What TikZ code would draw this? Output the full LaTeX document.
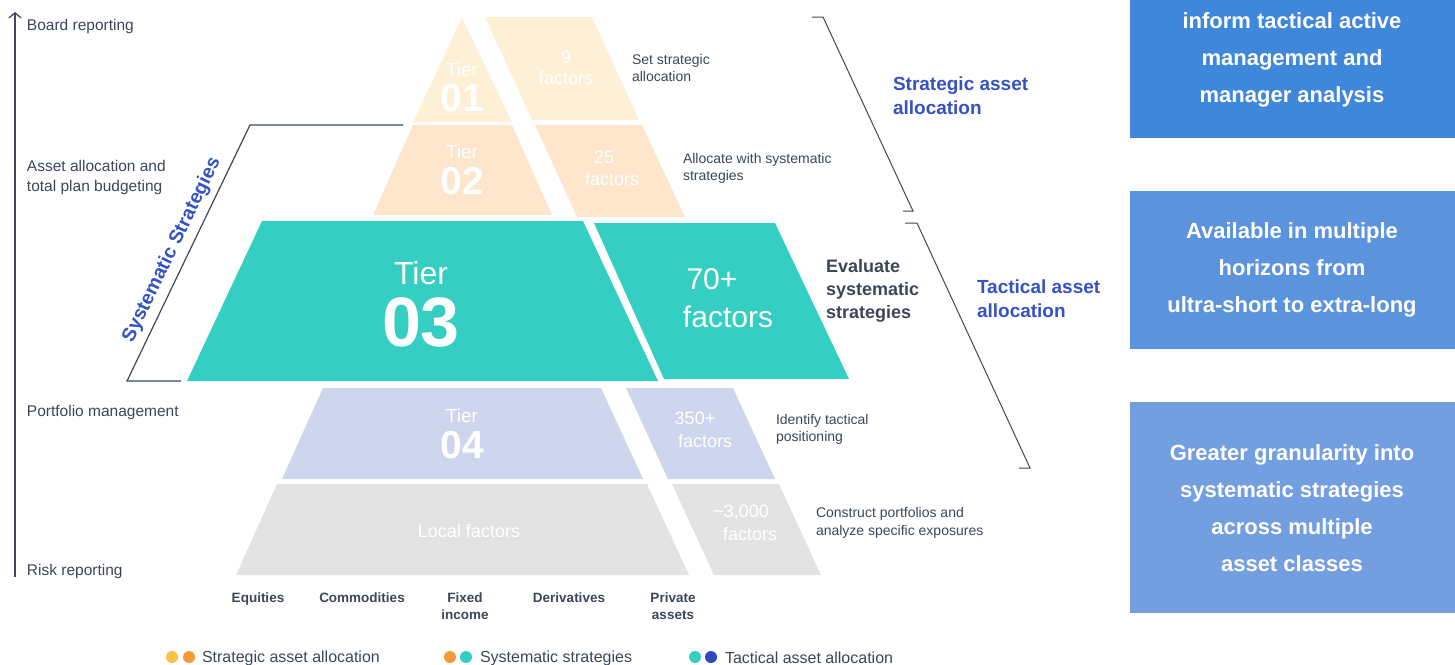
\documentclass[tikz,border=0pt]{standalone}
\usepackage{fontspec}
\setmainfont{Liberation Sans}
\usetikzlibrary{arrows.meta}

\definecolor{tierA}{HTML}{FEF0D6}
\definecolor{tierB}{HTML}{FDE6CC}
\definecolor{tierC}{HTML}{34CEC2}
\definecolor{tierD}{HTML}{CED6EE}
\definecolor{tierE}{HTML}{E3E3E3}
\definecolor{ink}{HTML}{3C4658}
\definecolor{headblue}{HTML}{3552C4}
\definecolor{rule}{HTML}{3F4858}
\definecolor{boxA}{HTML}{3F87DA}
\definecolor{boxB}{HTML}{5B94DD}
\definecolor{boxC}{HTML}{739FE1}
\definecolor{dotyellow}{HTML}{F8C347}
\definecolor{dotorange}{HTML}{F39A38}
\definecolor{dotteal}{HTML}{34CEC2}
\definecolor{dotblue}{HTML}{2E4BBE}

\begin{document}
\begin{tikzpicture}[x=1pt,y=-1pt,
  every node/.style={inner sep=0pt, outer sep=0pt},
  lbl/.style={font=\fontsize{15.5}{20}\selectfont, text=ink, anchor=west, align=left},
  note/.style={font=\fontsize{14}{17.5}\selectfont, text=ink, anchor=west, align=left},
  head/.style={font=\bfseries\fontsize{19}{24}\selectfont, text=headblue, anchor=west, align=left},
  tiersm/.style={font=\fontsize{19}{19}\selectfont, text=white},
  tiernum/.style={font=\bfseries\fontsize{39}{39}\selectfont, text=white},
  factor/.style={font=\fontsize{18}{18}\selectfont, text=white},
  boxtext/.style={font=\bfseries\fontsize{22}{37}\selectfont, text=white, align=center},
  asset/.style={font=\bfseries\fontsize{13.5}{17}\selectfont, text=ink, align=center, anchor=north},
  legend/.style={font=\fontsize{16}{16}\selectfont, text=ink, anchor=west},
  bracket/.style={draw=rule, line width=1pt},
  legdot/.style={circle, minimum size=12pt}
]
\useasboundingbox (0,0) rectangle (1455,664);

% ---- pyramid tiers (left piece, right piece) ----
\fill[tierA] (462,18) -- (512,122) -- (413,122) -- cycle;
\fill[tierA] (485,17) -- (592,17) -- (639,120) -- (532,120) -- cycle;
\fill[tierB] (413,125) -- (512,125) -- (552,215) -- (373,215) -- cycle;
\fill[tierB] (535,125) -- (642,125) -- (685,217) -- (577,217) -- cycle;
\fill[tierC] (262,221) -- (583,221) -- (658,381) -- (187,381) -- cycle;
\fill[tierC] (594,223) -- (775,223) -- (849,379) -- (664,379) -- cycle;
\fill[tierD] (323,388) -- (601,388) -- (643,479) -- (282,479) -- cycle;
\fill[tierD] (626,388) -- (733,388) -- (775,479) -- (668,479) -- cycle;
\fill[tierE] (277,484) -- (647,484) -- (689,575) -- (236,575) -- cycle;
\fill[tierE] (672,484) -- (779,484) -- (821,575) -- (714,575) -- cycle;

% ---- tier labels ----
\node[tiersm]  (t1a) at (462,70)  {Tier};
\node[tiernum] (t1b) at (462,98.5) {01};
\node[factor]  (f1a) at (566,57)  {9};
\node[factor]  (f1b) at (566,78)  {factors};

\node[tiersm]  (t2a) at (462,152) {Tier};
\node[tiernum] (t2b) at (462,181) {02};
\node[factor]  (f2a) at (604,157) {25};
\node[factor]  (f2b) at (612,179) {factors};

\node[font=\fontsize{32}{32}\selectfont, text=white] (t3a) at (421,273.5) {Tier};
\node[font=\bfseries\fontsize{70}{70}\selectfont, text=white] (t3b) at (421,322) {03};
\node[font=\fontsize{30}{30}\selectfont, text=white] (f3a) at (712,279) {70+};
\node[font=\fontsize{30}{30}\selectfont, text=white] (f3b) at (728,317) {factors};

\node[tiersm]  (t4a) at (462,416) {Tier};
\node[tiernum] (t4b) at (462,445) {04};
\node[factor]  (f4a) at (695,418) {350+};
\node[factor]  (f4b) at (705,441) {factors};

\node[factor]  (t5)  at (469,531) {Local factors};
\node[factor]  (f5a) at (741,512) {\textasciitilde 3,000};
\node[factor]  (f5b) at (750,534) {factors};

% ---- tier descriptions ----
\node[note] (d1) at (632,68)    {Set strategic\\allocation};
\node[note] (d2) at (683,168.5) {Allocate with systematic\\strategies};
\node[font=\bfseries\fontsize{18}{23}\selectfont, text=ink, anchor=west, align=left] (d3) at (826,291) {Evaluate\\systematic\\strategies};
\node[note] (d4) at (776,429.5) {Identify tactical\\positioning};
\node[note] (d5) at (816,523)   {Construct portfolios and\\analyze specific exposures};

% ---- reporting axis ----
\coordinate (axisbot) at (15,577);
\coordinate (axistop) at (15,12);
\draw[rule, line width=1.3pt, -{Straight Barb[length=5pt,width=12pt]}] (axisbot) -- (axistop);
\node[lbl] (r1) at (27,26)  {Board reporting};
\node[lbl] (r2) at (27,177) {Asset allocation and\\total plan budgeting};
\node[lbl] (r3) at (27,412) {Portfolio management};
\node[lbl] (r4) at (27,571) {Risk reporting};

% ---- brackets ----
\draw[bracket, line width=1.2pt] (403,125) -- (250,125) -- (127,381) -- (181,381);
\node[font=\bfseries\fontsize{19.5}{20}\selectfont, text=headblue, rotate=64.3] (sys) at (172,250) {Systematic Strategies};

\draw[bracket] (812,17) -- (823,17) -- (913,211) -- (903,211);
\node[head] (saa) at (893,96) {Strategic asset\\allocation};

\draw[bracket] (905,223) -- (917,223) -- (1030,468) -- (1019,468);
\node[head] (taa) at (977,299) {Tactical asset\\allocation};

% ---- side panels ----
\fill[boxA] (1130,0)   rectangle (1455,138);
\fill[boxB] (1130,191) rectangle (1455,349);
\fill[boxC] (1130,402) rectangle (1455,613);
\node[boxtext] (b1) at (1292,59.5)  {inform tactical active\\management and\\manager analysis};
\node[boxtext] (b2) at (1292,269.5) {Available in multiple\\horizons from\\ultra-short to extra-long};
\node[boxtext] (b3) at (1292,508.5) {Greater granularity into\\systematic strategies\\across multiple\\asset classes};

% ---- asset classes ----
\node[asset] (a1) at (258,593) {Equities};
\node[asset] (a2) at (362,593) {Commodities};
\node[asset] (a3) at (465,593) {Fixed\\income};
\node[asset] (a4) at (569,593) {Derivatives};
\node[asset] (a5) at (673,593) {Private\\assets};

% ---- legend ----
\node[legdot, fill=dotyellow] (l1a) at (172,657) {};
\node[legdot, fill=dotorange] (l1b) at (189,657) {};
\node[legend] (l1) at (202,658) {Strategic asset allocation};
\node[legdot, fill=dotorange] (l2a) at (450,657) {};
\node[legdot, fill=dotteal]   (l2b) at (466,657) {};
\node[legend] (l2) at (480,658) {Systematic strategies};
\node[legdot, fill=dotteal]   (l3a) at (695,657) {};
\node[legdot, fill=dotblue]   (l3b) at (711,657) {};
\node[legend] (l3) at (725,658) {Tactical asset allocation};
\end{tikzpicture}
\end{document}
